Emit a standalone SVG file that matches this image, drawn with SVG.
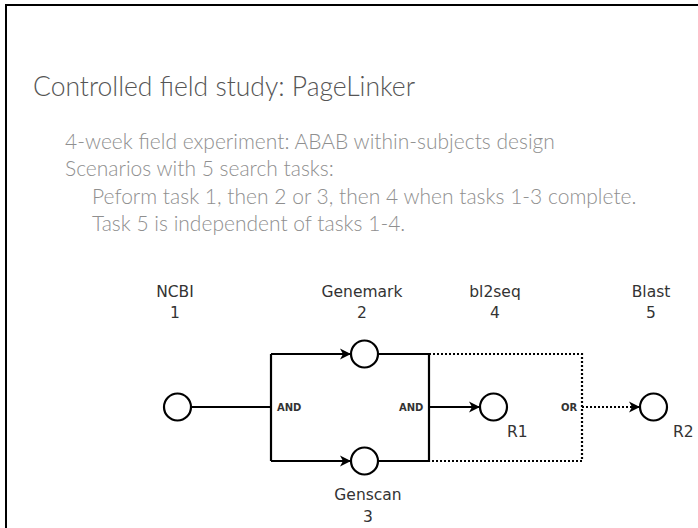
<svg xmlns="http://www.w3.org/2000/svg" width="698" height="528" viewBox="0 0 698 528">
  <defs>
    <style>
      .title { font-family: Lato, "Liberation Sans", sans-serif; font-size: 26.5px; fill: #555555; font-weight: 300; }
      .body { font-family: Lato, "Liberation Sans", sans-serif; font-size: 21px; fill: #8f8f8f; font-weight: 300; }
      .lbl { font-family: "DejaVu Sans", sans-serif; font-size: 15.5px; fill: #333333; text-anchor: middle; }
      .rl { font-family: "DejaVu Sans", sans-serif; font-size: 15.5px; fill: #333333; }
      .gate { font-family: "DejaVu Sans", sans-serif; font-size: 10px; font-weight: bold; fill: #333333; }
      .node { fill: #ffffff; stroke: #000000; stroke-width: 2.2; }
      .solid { fill: none; stroke: #000000; stroke-width: 2.2; }
      .dot { fill: none; stroke: #000000; stroke-width: 2.2; stroke-dasharray: 2 2; }
      .frame { fill: none; stroke: #000000; stroke-width: 2; }
    </style>
    <marker id="ah" markerUnits="userSpaceOnUse" markerWidth="14" markerHeight="14" viewBox="-12 -7 14 14" refX="0" refY="0" orient="auto">
      <path d="M0,0 L-11,-5.5 L-8,0 L-11,5.5 Z" fill="#000000"/>
    </marker>
  </defs>

  <path class="frame" d="M6,528 L6,5 L698,5"/>

  <text class="title" x="33" y="96">Controlled field study: PageLinker</text>
  <text class="body" x="65" y="149">4-week field experiment: ABAB within-subjects design</text>
  <text class="body" x="65" y="176">Scenarios with 5 search tasks:</text>
  <text class="body" x="92" y="204">Peform task 1, then 2 or 3, then 4 when tasks 1-3 complete.</text>
  <text class="body" x="92" y="231">Task 5 is independent of tasks 1-4.</text>

  <g id="connectors">
    <path class="solid" d="M191,407 L271,407"/>
    <path class="solid" d="M271,354 L271,461"/>
    <path class="solid" d="M271,354 L351,354" marker-end="url(#ah)"/>
    <path class="solid" d="M271,461 L351,461" marker-end="url(#ah)"/>
    <path class="solid" d="M378,354 L429,354 L429,461 L378,461"/>
    <path class="solid" d="M429,407 L480,407" marker-end="url(#ah)"/>
    <path class="dot" d="M429,354 L582,354 L582,461 L429,461"/>
    <path class="dot" d="M582,407 L640,407" marker-end="url(#ah)"/>
    <text class="gate" x="277" y="411">AND</text>
    <text class="gate" x="399" y="411">AND</text>
    <text class="gate" x="561" y="411">OR</text>
  </g>

  <g id="ncbi">
    <circle class="node" cx="177.5" cy="407" r="13.5"/>
    <text class="lbl" x="175" y="297">NCBI</text>
    <text class="lbl" x="175" y="318">1</text>
  </g>
  <g id="genemark">
    <circle class="node" cx="364.5" cy="354" r="13.5"/>
    <text class="lbl" x="362" y="297">Genemark</text>
    <text class="lbl" x="362" y="318">2</text>
  </g>
  <g id="genscan">
    <circle class="node" cx="364.5" cy="461" r="13.5"/>
    <text class="lbl" x="368" y="500">Genscan</text>
    <text class="lbl" x="368" y="522">3</text>
  </g>
  <g id="bl2seq">
    <circle class="node" cx="493.5" cy="407" r="13.5"/>
    <text class="lbl" x="495" y="297">bl2seq</text>
    <text class="lbl" x="495" y="318">4</text>
    <text class="rl" x="507" y="437">R1</text>
  </g>
  <g id="blast">
    <circle class="node" cx="653.5" cy="407" r="13.5"/>
    <text class="lbl" x="651" y="297">Blast</text>
    <text class="lbl" x="651" y="318">5</text>
    <text class="rl" x="673" y="437">R2</text>
  </g>
</svg>
